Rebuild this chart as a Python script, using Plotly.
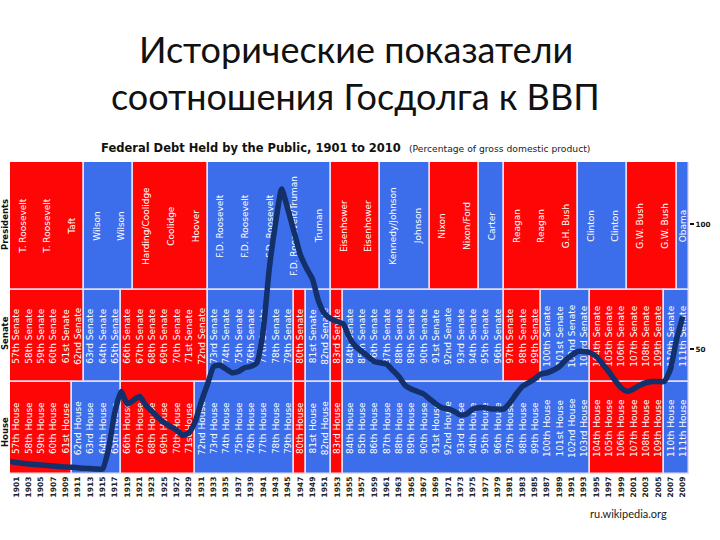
import plotly.graph_objects as go

# ---------------- data ----------------
years = list(range(1901, 2011))
debt_pct = [5.0, 4.6, 4.3, 4.0, 3.8, 3.6, 3.4, 3.2, 3.0, 2.8,
            2.7, 2.5, 2.3, 2.2, 2.0, 2.0, 10.5, 25, 33, 28,
            29.5, 31, 27.5, 25, 22.5, 20.5, 19, 17.5, 15.5, 16.5,
            21, 29, 36, 43, 43.5, 42, 40.5, 41, 42.5, 43,
            44.5, 57, 82, 100, 114, 106, 97, 88, 82.5, 78,
            69, 64, 62, 61, 60, 54.5, 51, 49, 47, 45,
            44.5, 44, 41.5, 39, 35.5, 34, 33, 32, 30, 28,
            26.5, 26, 25, 23.5, 24, 26, 26.5, 26.5, 26, 26,
            26, 28.5, 32, 35, 36.5, 38, 40, 40.5, 41.5, 43,
            45.5, 47.5, 49, 49, 48.5, 47, 44, 41, 37.5, 34.5,
            33, 34, 35.5, 36.5, 37, 37, 37, 42, 54, 63]

congress_numbers = list(range(57, 112))
congress_start_years = list(range(1901, 2011, 2))

senate_party = (["R"] * 6 + ["D"] * 3 + ["R"] * 7 + ["D"] * 7 + ["R"] + ["D"] * 2 + ["R"]
                + ["D"] * 13 + ["R"] * 3 + ["D"] * 4 + ["R"] * 6 + ["D"] * 2)
house_party = (["R"] * 5 + ["D"] * 4 + ["R"] * 6 + ["D"] * 8 + ["R"] + ["D"] * 2 + ["R"]
               + ["D"] * 20 + ["R"] * 6 + ["D"] * 2)

president_labels = ["T. Roosevelt", "T. Roosevelt", "Taft", "Wilson", "Wilson",
                    "Harding/Coolidge", "Coolidge", "Hoover", "F.D. Roosevelt",
                    "F.D. Roosevelt", "F.D. Roosevelt", "F.D. Roosevelt/Truman", "Truman",
                    "Eisenhower", "Eisenhower", "Kennedy/Johnson", "Johnson", "Nixon",
                    "Nixon/Ford", "Carter", "Reagan", "Reagan", "G.H. Bush", "Clinton",
                    "Clinton", "G.W. Bush", "G.W. Bush", "Obama"]
president_party = ["R", "R", "R", "D", "D", "R", "R", "R", "D", "D", "D", "D", "D", "R",
                   "R", "D", "D", "R", "R", "D", "R", "R", "R", "D", "D", "R", "R", "D"]
term_starts = list(range(1901, 2010, 4))
term_ends = [min(s + 4, 2011) for s in term_starts]

year_tick_labels = [str(y) for y in congress_start_years]
y_ticks = [50, 100]

# ---------------- style ----------------
RED = "#FE0606"
BLUE = "#3C6DEA"
EDGE = "#E6DDF2"
LINE = "#13306B"
party_color = {"R": RED, "D": BLUE}

Y_MAX = 124.8
ROWS = {"house": (0, 36.8), "senate": (36.8, 73.6), "pres": (73.6, Y_MAX)}


def ordinal(n):
    if 11 <= n % 100 <= 13:
        return f"{n}th"
    return f"{n}" + {1: "st", 2: "nd", 3: "rd"}.get(n % 10, "th")


def merge_groups(starts, ends, parties):
    out = []
    for s, e, p in zip(starts, ends, parties):
        if out and out[-1][2] == p and out[-1][1] == s:
            out[-1][1] = e
        else:
            out.append([s, e, p])
    return out


fig = go.Figure()


def add_row(starts, ends, parties, labels, row):
    b0, b1 = ROWS[row]
    grp = merge_groups(starts, ends, parties)
    fig.add_trace(go.Bar(
        x=[(g[0] + g[1]) / 2 for g in grp],
        y=[b1 - b0] * len(grp),
        base=[b0] * len(grp),
        width=[g[1] - g[0] for g in grp],
        marker=dict(color=[party_color[g[2]] for g in grp],
                    line=dict(color=EDGE, width=1.5)),
        hoverinfo="skip", showlegend=False))
    fig.add_trace(go.Bar(
        x=[(s + e) / 2 for s, e in zip(starts, ends)],
        y=[b1 - b0] * len(starts),
        base=[b0] * len(starts),
        width=[e - s for s, e in zip(starts, ends)],
        marker=dict(color="rgba(0,0,0,0)", line=dict(width=0)),
        text=labels, textposition="inside", insidetextanchor="middle",
        textangle=-90, constraintext="none",
        textfont=dict(color="white", size=9, family="DejaVu Sans"),
        hoverinfo="skip", showlegend=False))


cong_ends = [s + 2 for s in congress_start_years]
add_row(term_starts, term_ends, president_party, president_labels, "pres")
add_row(congress_start_years, cong_ends, senate_party,
        [f"{ordinal(n)} Senate" for n in congress_numbers], "senate")
add_row(congress_start_years, cong_ends, house_party,
        [f"{ordinal(n)} House" for n in congress_numbers], "house")

fig.add_trace(go.Scatter(
    x=years, y=debt_pct, mode="lines",
    line=dict(color=LINE, width=5.5, shape="spline", smoothing=0.5),
    hoverinfo="skip", showlegend=False))


def px_x(x):
    return (x - 10) / 687


def px_y(y):
    return (474 - y) / 312


annotations = [
    dict(text="Исторические показатели",
         xref="paper", yref="paper", x=px_x(360), y=px_y(49),
         xanchor="center", yanchor="middle", showarrow=False,
         font=dict(family="Lato", size=36, color="#111111")),
    dict(text="соотношения Госдолга к ВВП",
         xref="paper", yref="paper", x=px_x(360), y=px_y(96),
         xanchor="center", yanchor="middle", showarrow=False,
         font=dict(family="Lato", size=36, color="#111111")),
    dict(text="<b>Federal Debt Held by the Public, 1901 to 2010</b>",
         xref="paper", yref="paper", x=px_x(100), y=px_y(148),
         xanchor="left", yanchor="middle", showarrow=False,
         font=dict(family="DejaVu Sans", size=11.5, color="#111111")),
    dict(text="(Percentage of gross domestic product)",
         xref="paper", yref="paper", x=px_x(412), y=px_y(149),
         xanchor="left", yanchor="middle", showarrow=False,
         font=dict(family="DejaVu Sans", size=9.2, color="#222222")),
    dict(text="ru.wikipedia.org",
         xref="paper", yref="paper", x=px_x(636), y=px_y(513),
         xanchor="center", yanchor="middle", showarrow=False,
         font=dict(family="Lato", size=11, color="#222222")),
]
for name, ypix in [("Presidents", 225), ("Senate", 333), ("House", 432)]:
    annotations.append(dict(
        text=f"<b>{name}</b>", xref="paper", yref="paper",
        x=px_x(5), y=px_y(ypix), textangle=-90,
        xanchor="center", yanchor="middle", showarrow=False,
        font=dict(family="DejaVu Sans", size=8.5, color="#111111")))

fig.update_layout(
    width=720, height=540,
    margin=dict(l=10, r=23, t=162, b=66),
    paper_bgcolor="white", plot_bgcolor="white",
    barmode="overlay", bargap=0,
    annotations=annotations,
    xaxis=dict(range=[1901, 2011], tickmode="array",
               tickvals=[s + 1 for s in congress_start_years],
               ticktext=year_tick_labels, tickangle=-90,
               tickfont=dict(family="DejaVu Sans", size=7.5, color="#222222", weight="bold"),
               ticks="", showgrid=False, zeroline=False, showline=False),
    yaxis=dict(range=[0, Y_MAX], side="right", tickmode="array",
               tickvals=y_ticks, ticktext=[str(v) for v in y_ticks],
               ticks="outside", ticklen=4, tickwidth=1.5, tickcolor="#111111",
               tickfont=dict(family="DejaVu Sans", size=7.2, color="#111111", weight="bold"),
               showgrid=False, zeroline=False, showline=False),
)

fig.write_html("out.html", config={"displayModeBar": False},
               post_script="document.body.style.margin='0px';")
